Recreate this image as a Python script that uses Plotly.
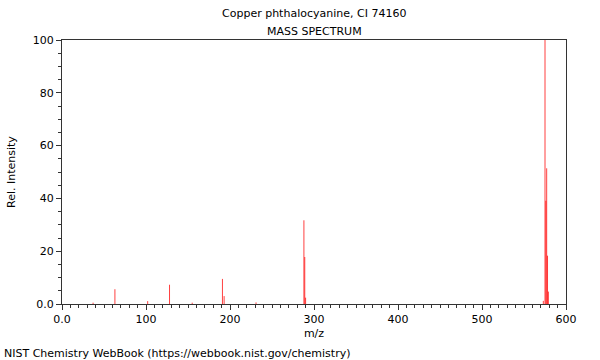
import plotly.graph_objects as go

# m/z values and relative intensities
mz = [37, 63, 102, 128, 155, 191, 193, 231, 288, 289, 290, 573, 575, 576, 577, 578, 579]
intensity = [0.5, 5.6, 1.1, 7.3, 0.5, 9.5, 3.0, 0.6, 31.7, 17.8, 2.4, 1.2, 100, 39.1, 51.4, 18.3, 4.7]

x_tickvals = [0, 100, 200, 300, 400, 500, 600]
x_ticktext = ["0.0", "100", "200", "300", "400", "500", "600"]
y_tickvals = [0, 20, 40, 60, 80, 100]
y_ticktext = ["0.0", "20", "40", "60", "80", "100"]

xs, ys = [], []
for m, h in zip(mz, intensity):
    xs += [m, m, None]
    ys += [0, h, None]

font = "DejaVu Sans, sans-serif"
fig = go.Figure()
fig.add_trace(go.Scatter(x=xs, y=ys, mode="lines",
                         line=dict(color="rgba(255,0,0,0.75)", width=1),
                         hoverinfo="skip", showlegend=False))

axis_common = dict(showgrid=False, zeroline=False, showline=True, linecolor="#333333",
                   linewidth=1, mirror=True, ticks="outside", ticklen=5, tickcolor="#333333",
                   tickfont=dict(family=font, size=11, color="black"))
fig.update_xaxes(range=[0, 600], tickvals=x_tickvals, ticktext=x_ticktext,
                 minor=dict(dtick=10, ticks="outside", ticklen=3, tickcolor="#333333"),
                 title=dict(text="m/z", font=dict(family=font, size=11, color="black"), standoff=4),
                 **axis_common)
fig.update_yaxes(range=[0, 100], tickvals=y_tickvals, ticktext=y_ticktext,
                 minor=dict(dtick=5, ticks="outside", ticklen=3, tickcolor="#333333"),
                 **axis_common)

W, H = 600, 360
ML, MT, MR, MB = 62, 40, 34, 56
PW, PH = W - ML - MR, H - MT - MB
fig.update_layout(
    width=W, height=H,
    margin=dict(l=ML, r=MR, t=MT, b=MB, autoexpand=False),
    plot_bgcolor="white", paper_bgcolor="white",
    font=dict(family=font, size=11, color="black"),
    annotations=[
        dict(text="Copper phthalocyanine, CI 74160", x=0.5, y=1, xref="paper", yref="paper",
             yshift=35, showarrow=False, font=dict(size=11)),
        dict(text="MASS SPECTRUM", x=0.5, y=1, xref="paper", yref="paper",
             yshift=17, showarrow=False, font=dict(size=11)),
        dict(text="Rel. Intensity", textangle=-90, x=(11 - ML) / PW, y=0.5,
             xref="paper", yref="paper", showarrow=False, font=dict(size=11),
             xanchor="center", yanchor="middle"),
        dict(text="NIST Chemistry WebBook (https://webbook.nist.gov/chemistry)",
             x=(2 - ML) / PW, y=-(353 - (H - MB)) / PH,
             xref="paper", yref="paper", showarrow=False, font=dict(size=11),
             xanchor="left", yanchor="middle"),
    ],
)

# remove the default 8px page margin so the figure fills the window exactly
fig.write_html("out.html", config={"displayModeBar": False},
               post_script="document.body.style.margin='0';document.body.style.overflow='hidden';")
